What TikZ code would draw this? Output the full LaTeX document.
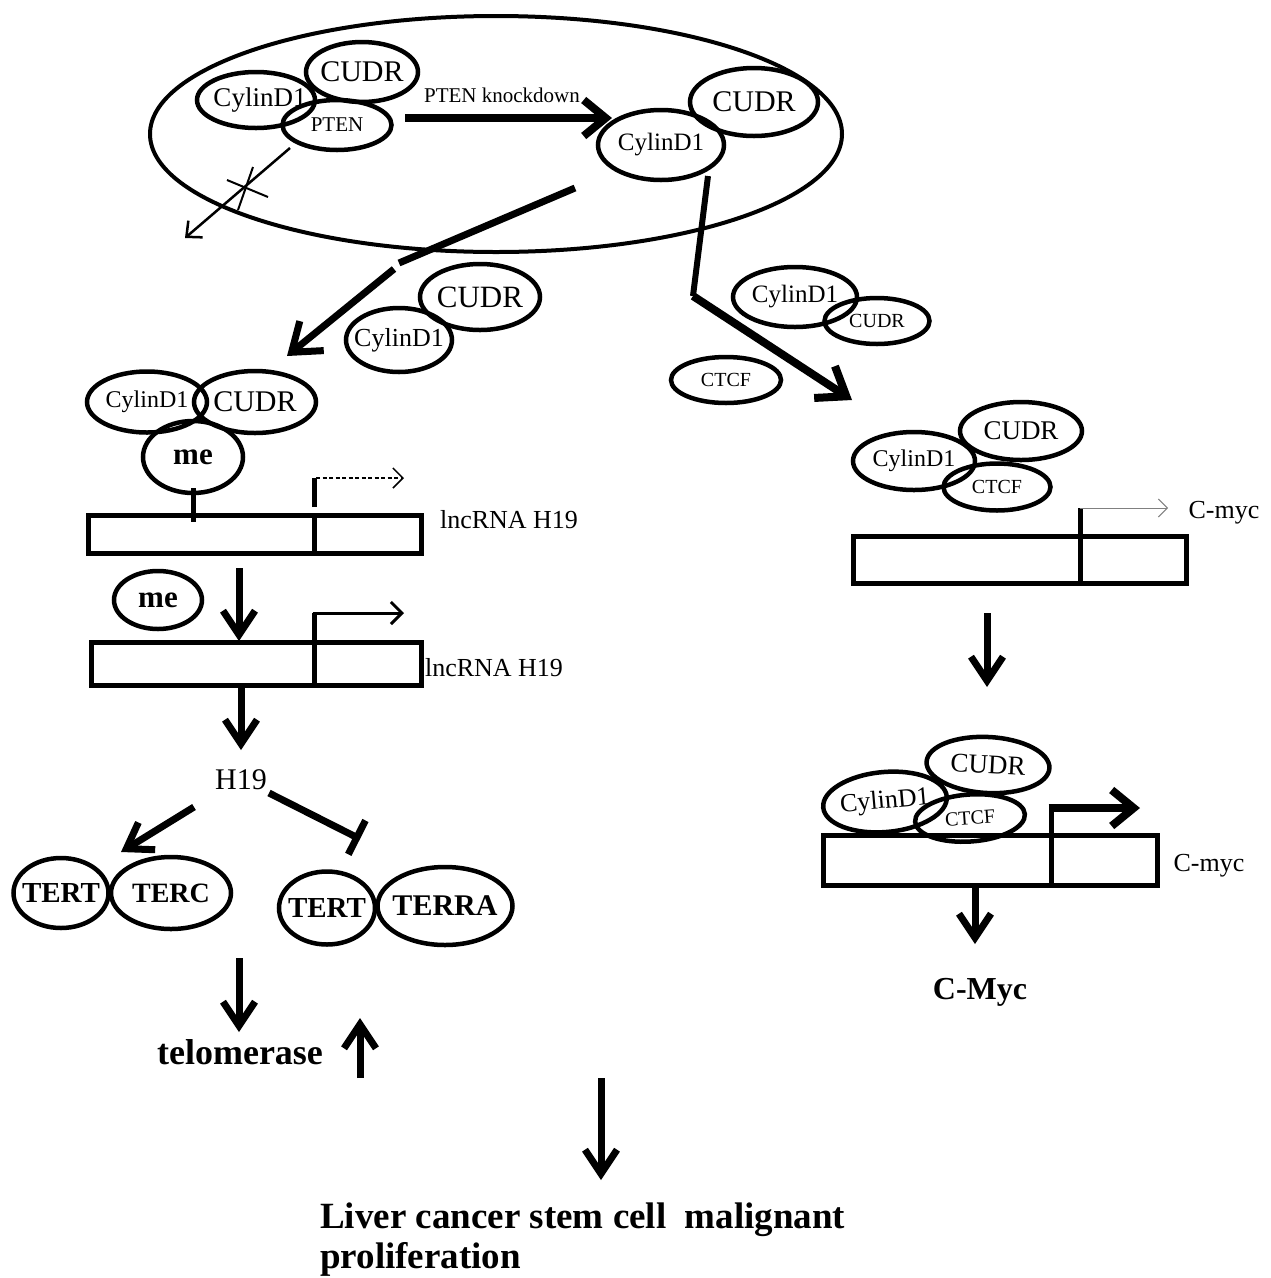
\documentclass[tikz,border=0pt]{standalone}
\usepackage{fontspec}
\setmainfont{Liberation Serif}
\usetikzlibrary{shapes.geometric,arrows.meta}
\begin{document}
\begin{tikzpicture}[x=1pt,y=-1pt,
  every node/.style={inner sep=0pt},
  ov/.style={ellipse,draw,line width=4.5pt,inner sep=0pt},
  tx/.style={font=\fontsize{#1}{#1}\selectfont},
  bx/.style={font=\fontsize{#1}{#1}\selectfont\bfseries},
  big/.style={line width=7pt,-{Straight Barb[length=24pt,width=32pt]}},
  gene/.style={draw,line width=5pt,rectangle,inner sep=0pt},
  bar/.style={line width=5pt},
]
\useasboundingbox (0,0) rectangle (1271,1278);

% cell
\node[ellipse,draw,line width=4pt,minimum width=692pt,minimum height=236pt] (cell) at (496,134) {};

% top-left complex
\node[ov,minimum width=118pt,minimum height=56pt,label={[tx=27,name=cy1t,xshift=4pt]center:CylinD1}] (cy1) at (256,100) {};
\node[ov,minimum width=112pt,minimum height=60pt,label={[tx=30,name=cu1t]center:CUDR}] (cu1) at (362,72) {};
\node[ov,minimum width=109pt,minimum height=50pt,label={[tx=21,name=pt1t]center:PTEN}] (pt1) at (337,125) {};

% knockdown arrow
\coordinate (k1) at (405,118);
\coordinate (k2) at (612,118);
\draw[line width=8pt,-{Straight Barb[length=22pt,width=36pt]}] (k1) -- (k2);
\node[tx=21] (kd) at (502,95) {PTEN knockdown};

% top-right complex
\node[ov,minimum width=128pt,minimum height=68pt,label={[tx=30,name=cu2t]center:CUDR}] (cu2) at (754,102) {};
\node[ov,minimum width=126pt,minimum height=70pt,label={[tx=25,name=cy2t]center:CylinD1}] (cy2) at (661,145) {};

% blocked arrow
\coordinate (x1) at (290,148);
\coordinate (x2) at (185,238);
\draw[line width=2.5pt,-{Straight Barb[length=12pt,width=22pt]}] (x1) -- (x2);
\coordinate (xa) at (227,180); \coordinate (xb) at (268,197);
\coordinate (xc) at (253,167); \coordinate (xd) at (238,210);
\draw[line width=2pt] (xa) -- (xb);
\draw[line width=2pt] (xc) -- (xd);

% broken arrow to the left
\coordinate (b1) at (575,188);
\coordinate (b2) at (399,263);
\coordinate (b3) at (394,269);
\coordinate (b4) at (287,356);
\draw[line width=7pt] (b1) -- (b2);
\draw[line width=7pt,-{Straight Barb[length=26pt,width=38pt]}] (b3) -- (b4);

% bent arrow to the right
\coordinate (r1) at (708,176);
\coordinate (r2) at (693,296);
\coordinate (r3) at (852,400);
\draw[line width=6pt] (r1) -- (r2);
\draw[line width=8pt,line join=miter,-{Straight Barb[length=26pt,width=38pt]}] (r2) -- (r3);

% middle free complex
\node[ov,minimum width=120pt,minimum height=66pt,label={[tx=31,name=cu3t]center:CUDR}] (cu3) at (480,297) {};
\node[ov,minimum width=106pt,minimum height=64pt,label={[tx=26,name=cy3t]center:CylinD1}] (cy3) at (399,340) {};

% right free complexes
\node[ov,minimum width=124pt,minimum height=60pt,label={[tx=25,name=cy4t]center:CylinD1}] (cy4) at (795,297) {};
\node[ov,minimum width=105pt,minimum height=46pt,label={[tx=20,name=cu4t]center:CUDR}] (cu4) at (877,321) {};
\node[ov,minimum width=110pt,minimum height=46pt,label={[tx=20,name=ct1t]center:CTCF}] (ct1) at (726,380) {};

% right cluster 2 and C-myc gene
\node[ov,minimum width=122pt,minimum height=58pt,label={[tx=27,name=cu5t]center:CUDR}] (cu5) at (1021,431) {};
\node[ov,minimum width=122pt,minimum height=58pt,label={[tx=24,name=cy5t]center:CylinD1}] (cy5) at (914,461) {};
\node[ov,minimum width=107pt,minimum height=47pt,label={[tx=20,name=ct2t]center:CTCF}] (ct2) at (997,487) {};
\node[gene,minimum width=333pt,minimum height=47pt] (g3) at (1019.5,559.5) {};
\coordinate (g3d1) at (1080,536); \coordinate (g3d2) at (1080,583);
\coordinate (g3p) at (1080,508); \coordinate (g3e) at (1168,508);
\draw[bar] (g3d1) -- (g3d2);
\draw[bar] (g3d1) -- (g3p);
\draw[gray,line width=1pt,-{Straight Barb[length=9pt,width=18pt]}] (g3p) -- (g3e);
\node[tx=26] (lb3) at (1224,513) {C-myc};

\coordinate (ra1) at (987,613); \coordinate (ra2) at (987,687);
\draw[big] (ra1) -- (ra2);

% right cluster 3 and active C-myc
\node[ov,rotate=-3,minimum width=123pt,minimum height=56pt,label={[tx=27,rotate=-3,name=cu6t]center:CUDR}] (cu6) at (988,765) {};
\node[ov,rotate=5,minimum width=124pt,minimum height=60pt,label={[tx=26,rotate=5,name=cy6t]center:CylinD1}] (cy6) at (885,802) {};
\node[ov,rotate=4,minimum width=110pt,minimum height=47pt,label={[tx=20,rotate=4,name=ct3t]center:CTCF}] (ct3) at (970,818) {};
\node[gene,minimum width=334pt,minimum height=50pt] (g4) at (990,860) {};
\coordinate (g4d1) at (1051,835); \coordinate (g4d2) at (1051,885);
\coordinate (g4p) at (1051,808); \coordinate (g4e) at (1140,808);
\draw[bar] (g4d1) -- (g4d2);
\draw[bar] (g4d1) -- (g4p);
\draw[line width=8pt,-{Straight Barb[length=22pt,width=36pt]}] ([xshift=-2.5pt]g4p) -- (g4e);
\node[tx=26] (lb4) at (1209,866) {C-myc};
\coordinate (ra3) at (975,885); \coordinate (ra4) at (975,944);
\draw[big] (ra3) -- (ra4);
\node[bx=32] (cmyc) at (980,992) {C-Myc};

% left column: methylated H19
\node[ov,minimum width=120pt,minimum height=61pt,label={[tx=24,name=cy7t]center:CylinD1}] (cy7) at (147,402) {};
\node[ov,minimum width=122pt,minimum height=62pt,label={[tx=30,name=cu7t]center:CUDR}] (cu7) at (255,402) {};
\node[ov,minimum width=100pt,minimum height=72pt,label={[bx=31,name=me1t]center:me}] (me1) at (193,457) {};
\node[gene,minimum width=333pt,minimum height=38pt] (g1) at (254.5,534) {};
\coordinate (s1) at (193,488); \coordinate (s2) at (193,522);
\draw[bar] (s1) -- (s2);
\coordinate (g1d1) at (314,515); \coordinate (g1d2) at (314,553);
\draw[bar] (g1d1) -- (g1d2);
\coordinate (g1p1) at (314,507); \coordinate (g1p2) at (314,478);
\draw[bar] (g1p1) -- (g1p2);
\coordinate (g1e) at (404,478);
\draw[line width=1.5pt,dash pattern=on 4pt off 2.5pt,-{Straight Barb[length=10pt,width=20pt]}] ([xshift=2pt]g1p2) -- (g1e);
\node[tx=26] (lb1) at (509,520) {lncRNA H19};

\coordinate (la1) at (239,568); \coordinate (la2) at (239,641);
\draw[big] (la1) -- (la2);
\node[ov,minimum width=88pt,minimum height=58pt,label={[bx=31,name=me2t]center:me}] (me2) at (158,600) {};

\node[gene,minimum width=330pt,minimum height=43pt] (g2) at (256,663.5) {};
\coordinate (g2d1) at (314,642); \coordinate (g2d2) at (314,685);
\draw[bar] (g2d1) -- (g2d2);
\coordinate (g2p) at (314,613); \coordinate (g2e) at (404,613);
\draw[bar] (g2d1) -- (g2p);
\draw[line width=3pt,-{Straight Barb[length=11pt,width=22pt]}] ([xshift=-1.5pt]g2p) -- (g2e);
\node[tx=26] (lb2) at (494,668) {lncRNA H19};

\coordinate (la3) at (241,686); \coordinate (la4) at (241,750);
\draw[big] (la3) -- (la4);
\node[tx=30] (h19) at (241,780) {H19};

\coordinate (h1) at (194,807); \coordinate (h2) at (121,852);
\draw[big] (h1) -- (h2);
\coordinate (h3) at (269,793); \coordinate (h4) at (360,839);
\draw[line width=7pt,-{Bar[width=38pt]}] (h3) -- (h4);

\node[ov,minimum width=95pt,minimum height=70pt,label={[bx=29,name=te1t]center:TERT}] (te1) at (61,893) {};
\node[ov,minimum width=120pt,minimum height=72pt,label={[bx=28,name=tc1t]center:TERC}] (tc1) at (171,893) {};
\node[ov,minimum width=96pt,minimum height=73pt,label={[bx=29,name=te2t]center:TERT}] (te2) at (327,908) {};
\node[ov,minimum width=135pt,minimum height=78pt,label={[bx=30,name=tr1t]center:TERRA}] (tr1) at (445,906) {};

\coordinate (t1) at (239,958); \coordinate (t2) at (239,1032);
\draw[big] (t1) -- (t2);
\node[bx=36] (tel) at (240,1052) {telomerase};
\coordinate (u1) at (360,1078); \coordinate (u2) at (360,1018);
\draw[big] (u1) -- (u2);

\coordinate (f1) at (601,1078); \coordinate (f2) at (601,1180);
\draw[big] (f1) -- (f2);
\node[bx=37,anchor=base west] (liv1) at (320,1228) {Liver cancer stem cell\ \ malignant};
\node[bx=37,anchor=base west] (liv2) at (320,1268) {proliferation};
\end{tikzpicture}
\end{document}
